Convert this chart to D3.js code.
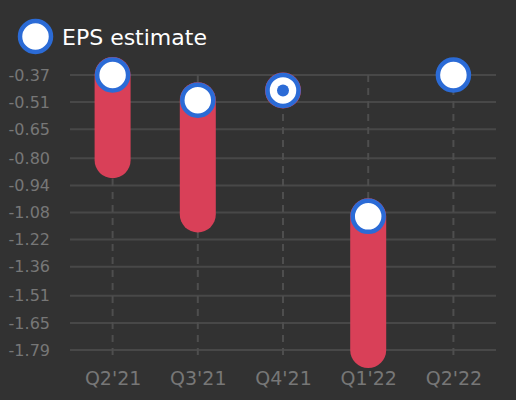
<!DOCTYPE html>
<html><head><meta charset="utf-8">
<script src="https://cdn.jsdelivr.net/npm/d3@7"></script>
<style>html,body{margin:0;padding:0;background:#323232;}svg{display:block;}</style>
</head><body>
<script>
const categories = ["Q2'21","Q3'21","Q4'21","Q1'22","Q2'22"];
const estimate = [-0.37, -0.50, -0.45, -1.10, -0.37];
const actual = [-0.81, -1.09, -0.45, -1.79, null];
const yTicks = [-0.37,-0.51,-0.65,-0.80,-0.94,-1.08,-1.22,-1.36,-1.51,-1.65,-1.79];
const yTickLabels = ["-0.37","-0.51","-0.65","-0.80","-0.94","-1.08","-1.22","-1.36","-1.51","-1.65","-1.79"];
const legendLabel = "EPS estimate";

const W=516,H=400;
const m={l:70,r:20,t:75,b:50};
const svg=d3.select("body").append("svg").attr("width",W).attr("height",H);
svg.append("rect").attr("width",W).attr("height",H).attr("fill","#323232");

const x=d3.scalePoint().domain(categories).range([m.l,W-m.r]).padding(0.5);
const y=d3.scaleLinear().domain([-1.79,-0.37]).range([H-m.b,m.t]);
const font="DejaVu Sans, sans-serif";

// grid
svg.append("g").selectAll("line").data(yTicks).join("line")
  .attr("x1",m.l).attr("x2",W-m.r)
  .attr("y1",d=>y(d)).attr("y2",d=>y(d))
  .attr("stroke","#484848").attr("stroke-width",2);

// vertical dashed
svg.append("g").selectAll("line").data(categories).join("line")
  .attr("x1",d=>x(d)).attr("x2",d=>x(d))
  .attr("y1",m.t).attr("y2",H-m.b+8)
  .attr("stroke","#4e4e4e").attr("stroke-width",2).attr("stroke-dasharray","7,6");

// y axis labels
const yAxis=d3.axisLeft(y).tickValues(yTicks).tickFormat((d,i)=>yTickLabels[i]).tickSize(0).tickPadding(0);
const gy=svg.append("g").attr("transform","translate(50,0)").call(yAxis);
gy.select(".domain").remove();
gy.selectAll("text").attr("fill","#777").attr("font-size","16px").attr("font-family",font);

// x axis labels
const xAxis=d3.axisBottom(x).tickSize(0).tickPadding(0);
const gx=svg.append("g").attr("transform","translate(0,371)").call(xAxis);
gx.select(".domain").remove();
gx.selectAll("text").attr("fill","#777").attr("font-size","19px").attr("font-family",font).attr("dy","0.71em");

// bars
const data=categories.map((c,i)=>({c,e:estimate[i],a:actual[i]}));
svg.append("g").selectAll("line").data(data.filter(d=>d.a!==null)).join("line")
  .attr("x1",d=>x(d.c)).attr("x2",d=>x(d.c))
  .attr("y1",d=>y(d.e)).attr("y2",d=>y(d.a))
  .attr("stroke","#d94058").attr("stroke-width",36).attr("stroke-linecap","round");

// markers
svg.append("g").selectAll("circle").data(data).join("circle")
  .attr("cx",d=>x(d.c)).attr("cy",d=>y(d.e)).attr("r",15.5)
  .attr("fill","#fff").attr("stroke","#2b6bd6").attr("stroke-width",4.5);
svg.append("g").selectAll("circle").data(data.filter(d=>d.a!==null && Math.abs(d.a-d.e)<0.005)).join("circle")
  .attr("cx",d=>x(d.c)).attr("cy",d=>y(d.e)).attr("r",6).attr("fill","#2b6bd6");

// legend
svg.append("circle").attr("cx",35.5).attr("cy",36.5).attr("r",15.5)
  .attr("fill","#fff").attr("stroke","#2b6bd6").attr("stroke-width",4.5);
svg.append("text").attr("x",62).attr("y",45).text(legendLabel)
  .attr("fill","#fff").attr("font-size","22px").attr("font-family",font);
</script>
</body></html>
